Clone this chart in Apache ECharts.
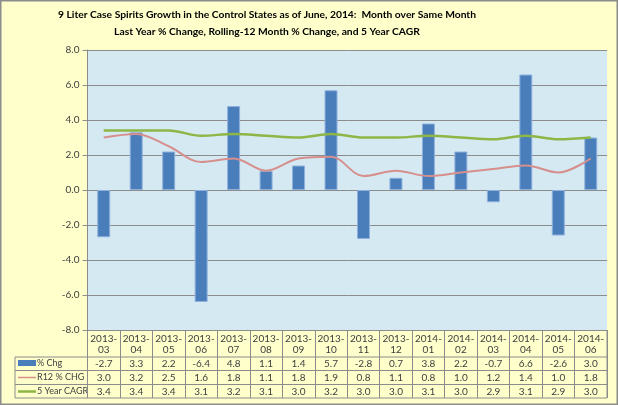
<!DOCTYPE html>
<html><head><meta charset="utf-8">
<script src="https://cdn.jsdelivr.net/npm/echarts@6/dist/echarts.min.js"></script>
<style>html,body{margin:0;padding:0;background:#FFFFCC;}#c{width:618px;height:405px;}</style>
</head><body><div id="c"></div>
<script>
const categories = ['2013-03','2013-04','2013-05','2013-06','2013-07','2013-08','2013-09','2013-10','2013-11','2013-12','2014-01','2014-02','2014-03','2014-04','2014-05','2014-06'];
const pctChg = [-2.7,3.3,2.2,-6.4,4.8,1.1,1.4,5.7,-2.8,0.7,3.8,2.2,-0.7,6.6,-2.6,3.0];
const r12Chg = [3.0,3.2,2.5,1.6,1.8,1.1,1.8,1.9,0.8,1.1,0.8,1.0,1.2,1.4,1.0,1.8];
const cagr5 = [3.4,3.4,3.4,3.1,3.2,3.1,3.0,3.2,3.0,3.0,3.1,3.0,2.9,3.1,2.9,3.0];
const seriesNames = ['% Chg','R12 % CHG','5 Year CAGR'];
const yMin = -8, yMax = 8, yStep = 2;
const titleLines = ['9 Liter Case Spirits Growth in the Control States as of June, 2014:  Month over Same Month','Last Year % Change, Rolling-12 Month % Change, and 5 Year CAGR'];

const FONT = 'Lato';
const TXT = '#404040';
const GRID_C = '#8c8c8c';
const L = 87.5, R = 607, T = 50, B = 330;
const rowCenters = [363.5, 377.5, 391.5];
const rowLines = [357, 370.5, 384.5, 398];
const tableLeft = 15;

const chart = echarts.init(document.getElementById('c'), null, {renderer:'canvas'});

function valueAxis(idx, vals){
  return {
    type:'category', data:categories, gridIndex:0, position:'bottom',
    offset: rowCenters[idx] - B,
    axisLine:{show:false, onZero:false}, axisTick:{show:false}, splitLine:{show:false},
    axisLabel:{interval:0, margin:0, verticalAlign:'middle', fontFamily:FONT, fontSize:10, color:TXT,
      formatter:(v,i)=>vals[i].toFixed(1)}
  };
}

const g = [];
rowLines.forEach(y=>g.push({type:'line', shape:{x1:tableLeft,y1:y,x2:R,y2:y}, style:{stroke:GRID_C,lineWidth:1}, silent:true}));
g.push({type:'line', shape:{x1:tableLeft,y1:rowLines[0],x2:tableLeft,y2:rowLines[3]}, style:{stroke:GRID_C,lineWidth:1}});
g.push({type:'line', shape:{x1:L,y1:B,x2:L,y2:rowLines[3]}, style:{stroke:GRID_C,lineWidth:1}});
g.push({type:'line', shape:{x1:R,y1:B,x2:R,y2:rowLines[3]}, style:{stroke:GRID_C,lineWidth:1}});
g.push({type:'rect', shape:{x:18,y:360,width:18,height:6}, style:{fill:'#4A7EBB'}});
g.push({type:'line', shape:{x1:18,y1:rowCenters[1],x2:36,y2:rowCenters[1]}, style:{stroke:'#D68F8C',lineWidth:1.5}});
g.push({type:'line', shape:{x1:18,y1:rowCenters[2],x2:36,y2:rowCenters[2]}, style:{stroke:'#8DB646',lineWidth:2.5}});
seriesNames.forEach((n,i)=>g.push({type:'text', x:37, y:rowCenters[i], style:{text:n, font:'9px '+FONT, fill:TXT, textVerticalAlign:'middle'}}));
g.push({type:'text', x:267, y:15, style:{text:titleLines[0], font:'bold 10.3px '+FONT, fill:'#000', textAlign:'center', textVerticalAlign:'middle'}});
g.push({type:'text', x:267, y:32, style:{text:titleLines[1], font:'bold 10.3px '+FONT, fill:'#000', textAlign:'center', textVerticalAlign:'middle'}});
g.push({type:'rect', shape:{x:0.75,y:0.75,width:616.5,height:403.5}, style:{fill:null, stroke:'#8c8c8c', lineWidth:1.5}});

chart.setOption({
  backgroundColor:'#FFFFCC',
  animation:false,
  grid:{left:L, right:618-R, top:T, bottom:405-B, show:true, backgroundColor:'#D5E9F3', borderWidth:0},
  xAxis:[
    {type:'category', data:categories, position:'bottom', boundaryGap:true,
     axisLine:{show:true, onZero:false, lineStyle:{color:GRID_C, width:1}},
     axisTick:{show:true, interval:0, length:rowLines[3]-B, lineStyle:{color:GRID_C}},
     axisLabel:{interval:0, margin:3, fontFamily:FONT, fontSize:10, color:TXT, lineHeight:11,
       formatter:v=>v.replace('-', '-\n')},
     splitLine:{show:false}},
    valueAxis(0,pctChg), valueAxis(1,r12Chg), valueAxis(2,cagr5)
  ],
  yAxis:{type:'value', min:yMin, max:yMax, interval:yStep,
    axisLine:{show:true, lineStyle:{color:GRID_C}},
    axisTick:{show:true, length:5, lineStyle:{color:GRID_C}},
    axisLabel:{margin:8, fontFamily:FONT, fontSize:10, color:TXT, formatter:v=>v.toFixed(1)},
    splitLine:{show:true, lineStyle:{color:GRID_C, width:1}}},
  series:[
    {name:seriesNames[0], type:'bar', data:pctChg, barWidth:'40%',
     itemStyle:{color:'#4A7EBB', borderColor:'#8FB1DC', borderWidth:1}},
    {name:seriesNames[1], type:'line', data:r12Chg, smooth:0.35, symbol:'none',
     lineStyle:{color:'#D68F8C', width:2}},
    {name:seriesNames[2], type:'line', data:cagr5, smooth:0.35, symbol:'none',
     lineStyle:{color:'#8DB646', width:2.5}}
  ],
  graphic:g
});
</script></body></html>
